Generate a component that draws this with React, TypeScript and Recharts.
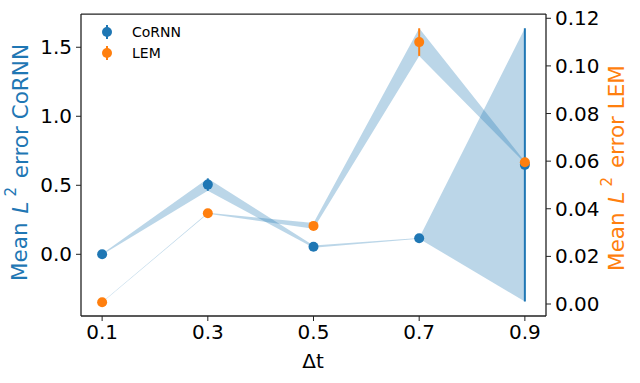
import React from "react";
import {
  Area,
  ComposedChart,
  ErrorBar,
  Legend,
  Line,
  ReferenceLine,
  XAxis,
  YAxis,
} from "recharts";

const C0 = "#1f77b4";
const C1 = "#ff7f0e";
const FONT = "DejaVu Sans, sans-serif";

const dt = [0.1, 0.3, 0.5, 0.7, 0.9];
const cornnMean = [0.0, 0.505, 0.055, 0.116, 0.648];
const cornnStd = [0.004, 0.045, 0.008, 0.003, 0.99];
const lemMean = [0.0007, 0.0381, 0.0328, 0.11, 0.0595];
const lemStd = [0.0001, 0.0002, 0.0012, 0.0058, 0.0003];

const leftTicks = [0, 0.5, 1.0, 1.5];
const rightTicks = [0, 0.02, 0.04, 0.06, 0.08, 0.1, 0.12];

const data = dt.map((x, i) => ({
  dt: x,
  cornn: cornnMean[i],
  cornnErr: cornnStd[i],
  cornnBand: [cornnMean[i] - cornnStd[i], cornnMean[i] + cornnStd[i]],
  lem: lemMean[i],
  lemErr: lemStd[i],
  lemBand: [lemMean[i] - lemStd[i], lemMean[i] + lemStd[i]],
}));

const legendItems = [
  { label: "CoRNN", color: C0 },
  { label: "LEM", color: C1 },
];

const axisLine = { stroke: "#222", strokeWidth: 1.3 };
const tickLine = { stroke: "#222", strokeWidth: 1 };
const tickStyle = { fill: "#000", fontSize: 20, fontFamily: FONT };

function LegendBox() {
  return (
    <div style={{ fontFamily: FONT, fontSize: 14, color: "#000" }}>
      {legendItems.map((it) => (
        <div key={it.label} style={{ display: "flex", alignItems: "center", height: 20.6 }}>
          <svg width={20} height={20}>
            <line x1={10} x2={10} y1={3} y2={17} stroke={it.color} strokeWidth={2} />
            <circle cx={10} cy={10} r={5} fill={it.color} />
          </svg>
          <span style={{ marginLeft: 15 }}>{it.label}</span>
        </div>
      ))}
    </div>
  );
}

function YLabel({ x, y, name, color }: { x: number; y: number; name: string; color: string }) {
  return (
    <text
      x={x}
      y={y}
      transform={`rotate(-90, ${x}, ${y})`}
      textAnchor="middle"
      dominantBaseline="central"
      fill={color}
      fontSize={21.5}
      fontFamily={FONT}
    >
      Mean <tspan dx={2} fontStyle="italic">L</tspan>
      <tspan dx={5} dy={-9} fontSize={15}>2</tspan>
      <tspan dx={2} dy={9}> error {name}</tspan>
    </text>
  );
}

export default function App() {
  return (
    <div style={{ position: "absolute", left: 0, top: 0, width: 640, height: 383, background: "#fff" }}>
      <ComposedChart
        width={640}
        height={383}
        data={data}
        margin={{ top: 14, right: 0, bottom: 0, left: 0 }}
      >
        <XAxis
          dataKey="dt"
          type="number"
          domain={[0.06, 0.94]}
          ticks={dt}
          allowDataOverflow
          height={67}
          tickSize={5}
          tickMargin={4}
          tickFormatter={(v: number) => v.toFixed(1)}
          axisLine={axisLine}
          tickLine={tickLine}
          tick={tickStyle}
          label={() => (
            <text x={313} y={368} textAnchor="middle" fontSize={20} fontFamily={FONT} fill="#000">
              Δt
            </text>
          )}
        />
        <YAxis
          yAxisId="left"
          type="number"
          domain={[-0.447, 1.741]}
          ticks={leftTicks}
          allowDataOverflow
          width={81}
          tickSize={5}
          tickMargin={4}
          tickFormatter={(v: number) => v.toFixed(1)}
          axisLine={axisLine}
          tickLine={tickLine}
          tick={tickStyle}
          label={() => <YLabel x={19.5} y={162.5} name="CoRNN" color={C0} />}
        />
        <YAxis
          yAxisId="right"
          orientation="right"
          type="number"
          domain={[-0.00504, 0.1218]}
          ticks={rightTicks}
          allowDataOverflow
          width={94}
          tickSize={5}
          tickMargin={4}
          tickFormatter={(v: number) => v.toFixed(2)}
          axisLine={axisLine}
          tickLine={tickLine}
          tick={tickStyle}
          label={() => <YLabel x={616} y={168} name="LEM" color={C1} />}
        />
        <ReferenceLine
          yAxisId="left"
          y={1.7405}
          ifOverflow="visible"
          stroke="#222"
          strokeWidth={1.3}
        />
        <Area
          yAxisId="left"
          dataKey="cornnBand"
          type="linear"
          stroke="none"
          fill={C0}
          fillOpacity={0.3}
          isAnimationActive={false}
        />
        <Area
          yAxisId="right"
          dataKey="lemBand"
          type="linear"
          stroke="none"
          fill={C0}
          fillOpacity={0.3}
          isAnimationActive={false}
        />
        <Line
          yAxisId="left"
          dataKey="cornn"
          stroke={C0}
          strokeOpacity={0}
          dot={{ r: 5, fill: C0, stroke: C0, strokeWidth: 0 }}
          activeDot={false}
          isAnimationActive={false}
        >
          <ErrorBar dataKey="cornnErr" direction="y" width={0} stroke={C0} strokeWidth={2} />
        </Line>
        <Line
          yAxisId="right"
          dataKey="lem"
          stroke={C1}
          strokeOpacity={0}
          dot={{ r: 5, fill: C1, stroke: C1, strokeWidth: 0 }}
          activeDot={false}
          isAnimationActive={false}
        >
          <ErrorBar dataKey="lemErr" direction="y" width={0} stroke={C1} strokeWidth={2} />
        </Line>
        <Legend
          layout="vertical"
          align="center"
          verticalAlign="middle"
          content={() => <LegendBox />}
          wrapperStyle={{ top: 21.7, left: 97, width: "auto", height: "auto" }}
        />
      </ComposedChart>
    </div>
  );
}
